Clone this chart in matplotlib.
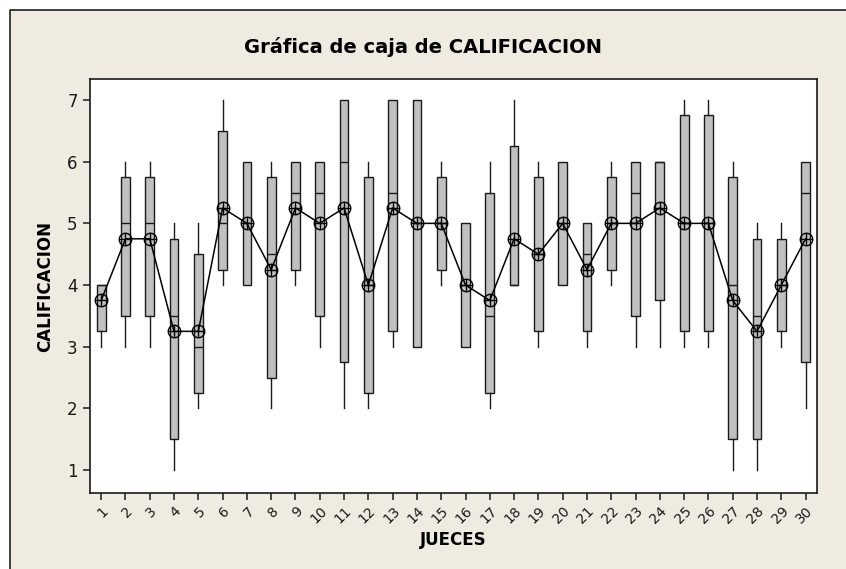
import matplotlib
matplotlib.use("Agg")
import matplotlib.pyplot as plt
from matplotlib.patches import Rectangle
from matplotlib.lines import Line2D

# ── Datos (estadísticos por juez)
jueces = list(range(1, 31))
whislo = [3, 3, 3, 1, 2, 4, 4, 2, 4, 3, 2, 2, 3, 3, 4, 3, 2, 4, 3, 4, 3, 4, 3, 3, 3, 3, 1, 1, 3, 2]
q1     = [3.25, 3.5, 3.5, 1.5, 2.25, 4.25, 4, 2.5, 4.25, 3.5, 2.75, 2.25, 3.25, 3, 4.25,
          3, 2.25, 4, 3.25, 4, 3.25, 4.25, 3.5, 3.75, 3.25, 3.25, 1.5, 1.5, 3.25, 2.75]
med    = [4, 5, 5, 3.5, 3, 5, 5, 4.5, 5.5, 5.5, 6, 4, 5.5, 5, 5,
          4, 3.5, 4, 4.5, 5, 4.5, 5, 5.5, 6, 5, 5, 4, 3.5, 4, 5.5]
q3     = [4, 5.75, 5.75, 4.75, 4.5, 6.5, 6, 5.75, 6, 6, 7, 5.75, 7, 7, 5.75,
          5, 5.5, 6.25, 5.75, 6, 5, 5.75, 6, 6, 6.75, 6.75, 5.75, 4.75, 4.75, 6]
whishi = [4, 6, 6, 5, 5, 7, 6, 6, 6, 6, 7, 6, 7, 7, 6,
          5, 6, 7, 6, 6, 5, 6, 6, 6, 7, 7, 6, 5, 5, 6]
medias = [3.75, 4.75, 4.75, 3.25, 3.25, 5.25, 5, 4.25, 5.25, 5, 5.25, 4, 5.25, 5, 5,
          4, 3.75, 4.75, 4.5, 5, 4.25, 5, 5, 5.25, 5, 5, 3.75, 3.25, 4, 4.75]

BEIGE = "#EFEBE1"
GRIS = "#C0C0C0"

fig = plt.figure(figsize=(8.46, 5.69), dpi=100)
fig.patch.set_facecolor("white")
# panel beige; sólo los bordes izquierdo y superior quedan visibles
x0, y1 = 10 / 846, 1 - 10 / 569
fig.patches.append(Rectangle((x0, 0), 1 - x0, y1, transform=fig.transFigure,
                             facecolor=BEIGE, edgecolor="none", zorder=-5))
fig.lines.append(Line2D([x0, x0, 1], [0, y1, y1], transform=fig.transFigure,
                        color="#202020", linewidth=1.2, zorder=-4))

ax = fig.add_axes([89.5 / 846, 1 - 493 / 569, (817 - 89.5) / 846, (493 - 79) / 569])
ax.set_facecolor("white")

stats = []
for i in range(len(jueces)):
    stats.append(dict(whislo=whislo[i], q1=q1[i], med=med[i], q3=q3[i],
                      whishi=whishi[i], fliers=[], label=str(jueces[i])))

ax.bxp(stats, positions=jueces, widths=0.36, patch_artist=True, showcaps=False,
       boxprops=dict(facecolor=GRIS, edgecolor="#1a1a1a", linewidth=1.0),
       medianprops=dict(color="#1a1a1a", linewidth=1.0),
       whiskerprops=dict(color="#1a1a1a", linewidth=1.0))

# medias conectadas
ax.plot(jueces, medias, color="black", linewidth=1.1, zorder=4)
ax.plot(jueces, medias, linestyle="none", marker="o", markersize=9,
        markerfacecolor="none", markeredgecolor="black", markeredgewidth=1.0, zorder=5)
ax.plot(jueces, medias, linestyle="none", marker="+", markersize=9,
        markeredgecolor="black", markeredgewidth=1.0, zorder=5)

ax.set_xlim(0.52, 30.47)
ax.set_ylim(0.63, 7.34)
ax.set_yticks([1, 2, 3, 4, 5, 6, 7])
ax.set_xticks(jueces)
ax.set_xticklabels([str(j) for j in jueces], rotation=45, ha="right",
                   rotation_mode="anchor", fontsize=10)
ax.tick_params(axis="y", labelsize=12, length=5, width=1.1, colors="#1a1a1a")
ax.tick_params(axis="x", length=5, width=1.1, colors="#1a1a1a", pad=3)
for s in ax.spines.values():
    s.set_linewidth(1.2)
    s.set_color("#1a1a1a")

ax.set_xlabel("JUECES", fontsize=12, fontweight="bold", labelpad=3)
ax.set_ylabel("CALIFICACION", fontsize=12, fontweight="bold", labelpad=9)
fig.text(0.5, 1 - 47 / 569, "Gráfica de caja de CALIFICACION", ha="center", va="center",
         fontsize=14, fontweight="bold")

fig.savefig("out.png", dpi=100, facecolor=fig.get_facecolor())
